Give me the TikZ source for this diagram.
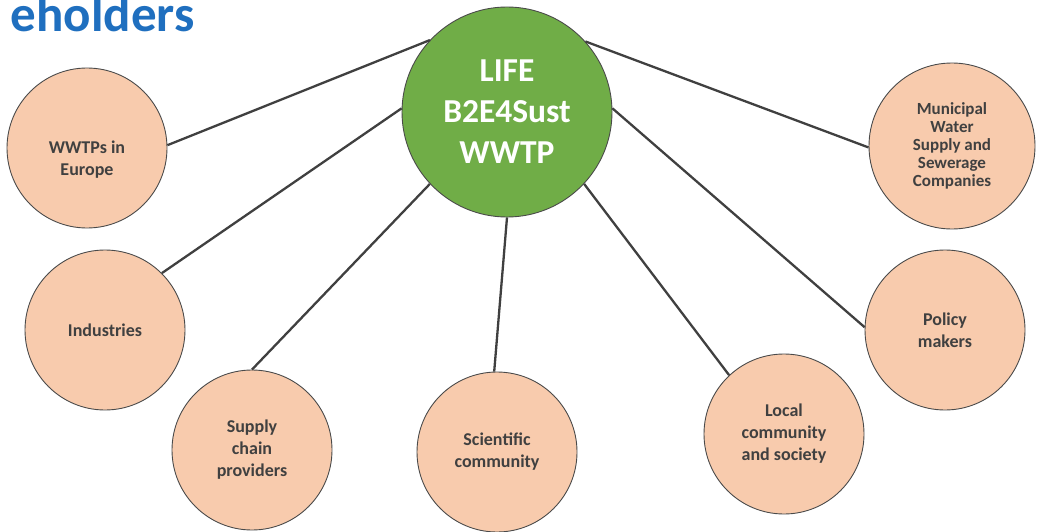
\documentclass[tikz,border=0pt]{standalone}
\usepackage{fontspec}
\setmainfont{Carlito}
\definecolor{peach}{HTML}{F8CBAD}
\definecolor{leaf}{HTML}{70AD47}
\definecolor{ink}{HTML}{404040}
\definecolor{rim}{HTML}{4A4A4A}
\definecolor{titleblue}{HTML}{1F6FBF}
\tikzset{
  stake/.style={circle, draw=rim, line width=0.9pt, fill=peach, minimum size=160pt,
    inner sep=0pt, align=center, text=ink, font=\bfseries\fontsize{18}{22}\selectfont},
  stxt/.style={align=center, text=ink, font=\bfseries\fontsize{18}{22}\selectfont, inner sep=0pt},
  hub/.style={circle, draw=rim, line width=0.9pt, fill=leaf, minimum size=210pt,
    inner sep=0pt, align=center, text=white, font=\bfseries\fontsize{33.5}{41}\selectfont},
  conn/.style={draw=ink, line width=2.3pt},
}
\begin{document}
\begin{tikzpicture}[x=1pt, y=-1pt]
\useasboundingbox (0,0) rectangle (1038,532);
\clip (0,0) rectangle (1038,532);
\node[anchor=base east, text=titleblue, font=\bfseries\fontsize{51}{60}\selectfont, inner sep=0pt] (title) at (195,32) {eholders};

\node[hub] (hub) at (507,112) {LIFE\\B2E4Sust\\WWTP};

\node[stake, label={[stxt, yshift=-12pt]center:{WWTPs in\\Europe}}] (wwtp) at (87,148) {};
\node[stake] (ind) at (105,330) {Industries};
\node[stake] (sup) at (252,450) {Supply\\chain\\providers};
\node[stake] (sci) at (497,452) {Scientific\\community};
\node[stake] (loc) at (784,434) {Local\\community\\and society};
\node[stake] (pol) at (945,330) {Policy\\makers};
\node[stake, minimum size=166pt, font=\bfseries\fontsize{17}{18}\selectfont] (mun) at (952,146) {Municipal\\Water\\Supply and\\Sewerage\\Companies};

\draw[conn] (hub.137) -- (wwtp.2);
\draw[conn] (hub.178) -- (ind.45);
\draw[conn] (hub.223) -- (sup.90);
\draw[conn] (hub.270) -- (sci.92);
\draw[conn] (hub.317) -- (loc.133);
\draw[conn] (hub.2) -- (pol.178);
\draw[conn] (hub.42) -- (mun.181);
\end{tikzpicture}
\end{document}
